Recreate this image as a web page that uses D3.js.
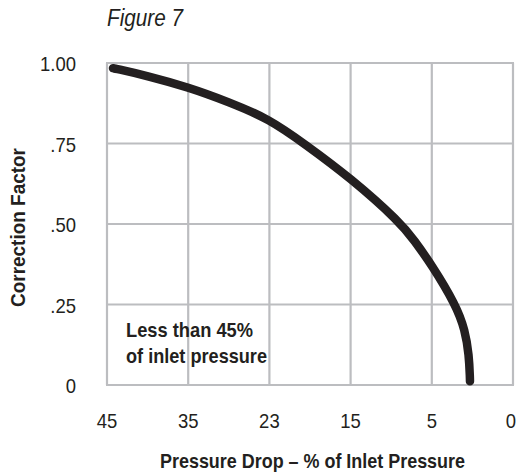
<!DOCTYPE html>
<html>
<head>
<meta charset="utf-8">
<script src="https://cdn.jsdelivr.net/npm/d3@7"></script>
<style>
  html, body { margin: 0; padding: 0; background: #fff; }
  svg { display: block; }
  text { font-family: "Liberation Sans", Arial, sans-serif; fill: #231f20; }
</style>
</head>
<body>
<svg id="chart" width="518" height="474"></svg>
<script>
// Axis ticks (evenly spaced, non-linear values)
const xTicks = [45, 35, 23, 15, 5, 0];
const yTicks = [0, 0.25, 0.5, 0.75, 1.0];
const yTickLabels = ["0", ".25", ".50", ".75", "1.00"];

// Curve: pressure drop (%) vs correction factor
const dropPct = [44.26, 44.0, 40, 35, 29, 23, 19.5, 15, 8.8, 7.2, 5, 3.51, 2.955, 2.71, 2.65, 2.65];
const factor  = [0.984, 0.983, 0.96, 0.925, 0.879, 0.826, 0.748, 0.643, 0.503, 0.45, 0.373, 0.248, 0.171, 0.093, 0.02, 0.012];

const svg = d3.select("#chart");
const mLeft = 107, mRight = 513, mTop = 63, mBottom = 385;

const step = (mRight - mLeft) / (xTicks.length - 1);
const x = d3.scaleLinear()
  .domain(xTicks)
  .range(xTicks.map((d, i) => mLeft + i * step));
const y = d3.scaleLinear().domain([0, 1]).range([mBottom, mTop]);

// condensed look: squeeze glyphs horizontally
function condense(sel, ratio) {
  sel.each(function () {
    const w = this.getComputedTextLength();
    d3.select(this).attr("textLength", w * ratio).attr("lengthAdjust", "spacingAndGlyphs");
  });
}
function fitTo(sel, width) {
  sel.attr("textLength", width).attr("lengthAdjust", "spacingAndGlyphs");
}

const grid = svg.append("g").attr("stroke", "#bcbdc0").attr("stroke-width", 2.2).attr("fill", "none");
grid.selectAll("line.v").data(xTicks).join("line")
  .attr("class", "v")
  .attr("x1", d => x(d)).attr("x2", d => x(d))
  .attr("y1", mTop).attr("y2", mBottom);
grid.selectAll("line.h").data(yTicks).join("line")
  .attr("class", "h")
  .attr("x1", mLeft - 1).attr("x2", mRight + 1)
  .attr("y1", d => y(d)).attr("y2", d => y(d));

// Y tick labels
svg.append("g").selectAll("text").data(yTicks).join("text")
  .attr("x", 76).attr("y", d => y(d) + 8)
  .attr("text-anchor", "end")
  .attr("font-size", 21)
  .text((d, i) => yTickLabels[i])
  .call(condense, 0.88);

// X tick labels
svg.append("g").selectAll("text").data(xTicks).join("text")
  .attr("x", d => Math.min(x(d), 511)).attr("y", 428)
  .attr("text-anchor", "middle")
  .attr("font-size", 21)
  .text(d => d)
  .call(condense, 0.88);

// Curve
const pts = dropPct.map((d, i) => [d, factor[i]]);
svg.append("path")
  .datum(pts)
  .attr("fill", "none")
  .attr("stroke", "#231f20")
  .attr("stroke-width", 8.5)
  .attr("stroke-linecap", "round")
  .attr("stroke-linejoin", "round")
  .attr("d", d3.line().x(d => x(d[0])).y(d => y(d[1])).curve(d3.curveBasis));

// Annotation
const note = svg.append("g").attr("font-size", 21).attr("font-weight", "bold");
note.append("text").attr("x", 126).attr("y", 337).text("Less than 45%").call(fitTo, 127);
note.append("text").attr("x", 126).attr("y", 363).text("of inlet pressure").call(fitTo, 141);

// Title
svg.append("text").attr("x", 107).attr("y", 26)
  .attr("font-size", 23).attr("font-style", "italic")
  .text("Figure 7")
  .call(fitTo, 76);

// Axis titles
svg.append("text").attr("x", 160).attr("y", 468)
  .attr("font-size", 21).attr("font-weight", "bold")
  .text("Pressure Drop – % of Inlet Pressure")
  .call(fitTo, 305);
svg.append("text")
  .attr("transform", "translate(25,307) rotate(-90)")
  .attr("font-size", 21).attr("font-weight", "bold")
  .text("Correction Factor")
  .call(fitTo, 159);
</script>
</body>
</html>
